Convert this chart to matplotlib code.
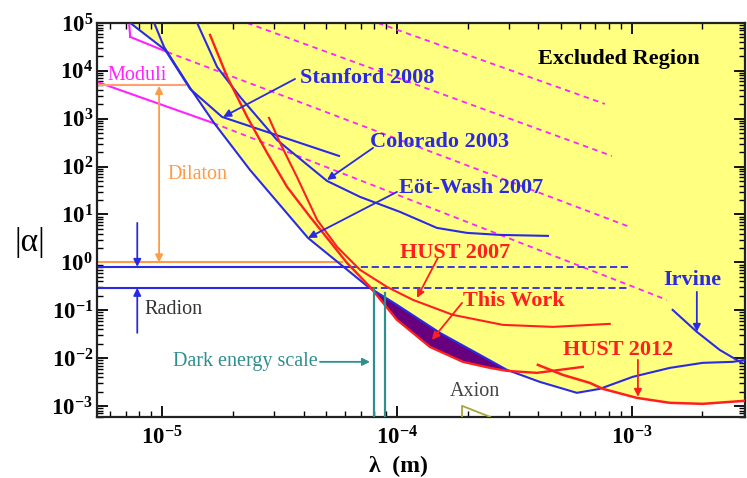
import numpy as np
import matplotlib
matplotlib.use('Agg')
import matplotlib.pyplot as plt
from matplotlib.ticker import LogLocator, FuncFormatter, NullFormatter

plt.rcParams['font.family'] = ['Liberation Serif', 'DejaVu Serif']
plt.rcParams['mathtext.fontset'] = 'custom'
plt.rcParams['mathtext.rm'] = 'Liberation Serif:bold'
plt.rcParams['mathtext.bf'] = 'Liberation Serif:bold'
plt.rcParams['mathtext.it'] = 'Liberation Serif:bold:italic'

# curves, as log10(lambda/m) and log10(|alpha|)
stanford_x = [-5.136, -4.987, -4.881, -4.745, -4.247]
stanford_y = [5.0, 4.436, 3.622, 3.038, 2.223]

eotwash_x = [-5.034, -4.992, -4.881, -4.779, -4.626, -4.379, -4.243, -4.123, -4.000, -3.817,
             -3.647, -3.532, -3.392, -3.234, -3.136, -2.996, -2.838, -2.698, -2.570, -2.511]
eotwash_y = [5.0, 4.499, 3.643, 2.912, 1.931, 0.511, -0.031, -0.511, -0.887, -1.472,
             -1.931, -2.244, -2.495, -2.724, -2.641, -2.390, -2.203, -2.098, -2.077, -2.035]

colorado_x = [-4.851, -4.766, -4.668, -4.511, -4.298, -4.157, -3.987, -3.830, -3.702, -3.562, -3.357]
colorado_y = [5.0, 4.081, 3.455, 2.557, 1.701, 1.367, 1.054, 0.720, 0.616, 0.574, 0.553]

irvine_x = [-2.826, -2.723, -2.626, -2.532]
irvine_y = [-0.992, -1.451, -1.827, -2.098]

hust07_x = [-4.545, -4.498, -4.426, -4.340, -4.255, -4.157, -4.043, -3.932, -3.762, -3.549, -3.336, -3.094]
hust07_y = [3.017, 2.495, 1.785, 0.887, 0.324, -0.157, -0.511, -0.783, -1.096, -1.305, -1.347, -1.284]

thiswork_x = [-4.796, -4.723, -4.638, -4.553, -4.468, -4.370, -4.315, -4.213, -4.115, -4.000,
              -3.860, -3.719, -3.604, -3.532, -3.404, -3.209]
thiswork_y = [4.749, 3.873, 3.038, 2.286, 1.576, 0.950, 0.616, -0.010, -0.511, -1.200,
              -1.764, -2.077, -2.203, -2.265, -2.307, -2.182]

hust12_x = [-3.400, -3.294, -3.179, -3.123, -2.979, -2.838, -2.698, -2.519]
hust12_y = [-2.140, -2.349, -2.516, -2.641, -2.829, -2.933, -2.954, -2.891]

# theory lines (magenta): solid part then dashed part
moduli_solid_x = [-5.277, -4.783]
moduli_solid_y = [3.768, 2.912]
moduli_dash_x = [-4.783, -2.851]
moduli_dash_y = [2.912, -0.783]
mod2_solid_x = [-5.136, -4.979]
mod2_solid_y = [4.708, 4.395]
mod2_dash_x = [-4.979, -3.009]
mod2_dash_y = [4.395, 0.741]
mod1_dash_x = [-4.638, -3.085]
mod1_dash_y = [5.0, 2.223]
mod0_dash_x = [-4.081, -3.115]
mod0_dash_y = [5.0, 3.309]

moduli_level = 5.0e3
dilaton_level = 1.0
radion_hi = 0.80
radion_lo = 0.294
dark_energy_x = [8.0e-5, 8.9e-5]


def P(lx, ly):
    return 10 ** np.asarray(lx, dtype=float), 10 ** np.asarray(ly, dtype=float)


blue = '#2a2ae6'
red = '#ff1f1f'
mag = '#ff22ff'
orange = '#ff9a45'
teal = '#2e8f8f'

fig = plt.figure(figsize=(7.47, 4.78), dpi=100)
ax = fig.add_axes([0.130, 0.128, 0.867, 0.824])
ax.set_xscale('log')
ax.set_yscale('log')
xmin, xmax = 10 ** -5.277, 10 ** -2.519
ymin, ymax = 10 ** -3.225, 1e5
ax.set_xlim(xmin, xmax)
ax.set_ylim(ymin, ymax)

# excluded (yellow) region
yx = stanford_x[:3] + eotwash_x[3:15] + hust12_x[4:] + [-2.3, -2.3, stanford_x[0]]
yy = stanford_y[:3] + eotwash_y[3:15] + hust12_y[4:] + [hust12_y[-1], 5.3, 5.3]
ax.fill(*P(yx, yy), color='#ffff80', lw=0, zorder=0)

# this work band
px_ = eotwash_x[7:12] + thiswork_x[8:14][::-1]
py_ = eotwash_y[7:12] + thiswork_y[8:14][::-1]
ax.fill(*P(px_, py_), color='#66007f', lw=0, zorder=1)

# magenta theory lines
ax.plot(*P(moduli_solid_x, moduli_solid_y), color=mag, lw=1.5, zorder=2)
ax.plot(*P(mod2_solid_x, mod2_solid_y), color=mag, lw=1.5, zorder=2)
ax.plot(*P([-5.14, -5.136], [4.95, 4.708]), color=mag, lw=1.5, zorder=2)
for xs, ys in [(moduli_dash_x, moduli_dash_y), (mod2_dash_x, mod2_dash_y),
               (mod1_dash_x, mod1_dash_y), (mod0_dash_x, mod0_dash_y)]:
    ax.plot(*P(xs, ys), color=mag, lw=1.3, ls=(0, (3, 2.5)), zorder=2)

# experiments
ax.plot(*P(stanford_x, stanford_y), color=blue, lw=1.5, zorder=3)
ax.plot(*P(eotwash_x, eotwash_y), color=blue, lw=1.5, zorder=3)
ax.plot(*P(colorado_x, colorado_y), color=blue, lw=1.5, zorder=3)
ax.plot(*P(irvine_x, irvine_y), color=blue, lw=1.5, zorder=3)
ax.plot(*P(hust07_x, hust07_y), color=red, lw=1.5, zorder=3)
ax.plot(*P(thiswork_x, thiswork_y), color=red, lw=1.7, zorder=3)
ax.plot(*P(hust12_x, hust12_y), color=red, lw=1.8, zorder=3)

# horizontal theory levels
ax.plot([xmin, 10 ** -4.902], [moduli_level] * 2, color='#ffa070', lw=1.5, zorder=2)
ax.plot([xmin, 10 ** -4.234], [dilaton_level] * 2, color=orange, lw=1.5, zorder=2)
ax.plot([xmin, 10 ** -4.200], [radion_hi] * 2, color=blue, lw=1.5, zorder=2)
ax.plot([10 ** -4.200, 10 ** -3.009], [radion_hi] * 2, color=blue, lw=1.3, ls=(0, (4, 2)), zorder=2)
ax.plot([xmin, 10 ** -4.115], [radion_lo] * 2, color=blue, lw=1.5, zorder=2)
ax.plot([10 ** -4.115, 10 ** -3.009], [radion_lo] * 2, color=blue, lw=1.3, ls=(0, (4, 2)), zorder=2)

# dark energy scale
ax.plot([dark_energy_x[0]] * 2, [ymin * 0.5, 10 ** -0.532], color=teal, lw=1.6, zorder=3)
ax.plot([dark_energy_x[1]] * 2, [ymin * 0.5, 10 ** -0.637], color=teal, lw=1.6, zorder=3)

# axion
ax.plot(*P([-3.723, -3.723, -3.604], [-3.4, -2.996, -3.225]), color='#a6a63c', lw=1.3, zorder=3)


def arrow(tail, head, color, lw=1.3, style='-|>'):
    ax.annotate('', xy=P(*head), xytext=P(*tail),
                arrowprops=dict(arrowstyle=style, color=color, lw=lw,
                                shrinkA=0, shrinkB=0, mutation_scale=11), zorder=4)


arrow((-4.434, 3.831), (-4.740, 3.038), blue)
arrow((-4.102, 2.390), (-4.298, 1.722), blue)
arrow((-4.000, 1.472), (-4.379, 0.511), blue)
arrow((-3.826, 0.094), (-3.915, -0.741), red)
arrow((-3.723, -0.846), (-3.851, -1.618), red)
arrow((-2.974, -2.035), (-2.974, -2.808), red)
arrow((-2.723, -0.616), (-2.723, -1.451), blue)
arrow((-4.328, -2.077), (-4.115, -2.077), teal)
arrow((-5.013, 3.685), (-5.013, 0.0), orange, style='<|-|>')
arrow((-5.106, 0.825), (-5.106, -0.094), blue)
arrow((-5.106, -1.472), (-5.106, -0.532), blue)

bold = dict(fontsize=16, fontweight='bold', va='center', ha='left', zorder=5)
ax.text(*P(-4.413, 3.852), 'Stanford 2008', color=blue, **bold)
ax.text(*P(-4.115, 2.516), 'Colorado 2003', color=blue, **bold)
ax.text(*P(-3.991, 1.555), 'Eöt-Wash 2007', color=blue, **bold)
ax.text(*P(-3.987, 0.198), 'HUST 2007', color=red, **bold)
ax.text(*P(-3.719, -0.804), 'This Work', color=red, **bold)
ax.text(*P(-3.294, -1.827), 'HUST 2012', color=red, **bold)
ax.text(*P(-2.868, -0.365), 'Irvine', color=blue, **bold)
ax.text(*P(-3.400, 4.248), 'Excluded Region', color='black', **bold)

reg = dict(fontsize=14.5, va='center', ha='left', zorder=5)
ax.text(*P(-5.234, 3.894), 'Moduli', color=mag, **reg)
ax.text(*P(-4.979, 1.827), 'Dilaton', color=orange, **reg)
ax.text(*P(-5.077, -0.992), 'Radion', color='#333333', **reg)
ax.text(*P(-4.953, -2.077), 'Dark energy scale', color=teal, **reg)
ax.text(*P(-3.774, -2.70), 'Axion', color='#444444', **reg)


def dec_label(v, pos, lo, hi):
    if v < lo * 0.999 or v > hi * 1.001:
        return ''
    return r'$\mathbf{10^{%d}}$' % round(np.log10(v))


# axes styling
ax.xaxis.set_major_locator(LogLocator(base=10, numticks=20))
ax.xaxis.set_minor_locator(LogLocator(base=10, subs=np.arange(2, 10), numticks=20))
ax.yaxis.set_major_locator(LogLocator(base=10, numticks=20))
ax.yaxis.set_minor_locator(LogLocator(base=10, subs=np.arange(2, 10), numticks=20))
ax.xaxis.set_major_formatter(FuncFormatter(lambda v, p: dec_label(v, p, xmin, xmax)))
ax.yaxis.set_major_formatter(FuncFormatter(lambda v, p: dec_label(v, p, ymin, ymax)))
ax.xaxis.set_minor_formatter(NullFormatter())
ax.yaxis.set_minor_formatter(NullFormatter())
ax.tick_params(which='both', direction='in', top=True, right=True, labelsize=16.5)
ax.tick_params(which='major', length=8, width=1.3)
ax.tick_params(which='minor', length=4, width=1.0)
ax.tick_params(axis='x', pad=7)
ax.tick_params(axis='y', pad=3)
for s in ax.spines.values():
    s.set_linewidth(1.6)
    s.set_color('#222222')

fig.text(30 / 747, 1 - 243 / 478, '|α|', fontsize=24, ha='center', va='center')
fig.text(398 / 747, 1 - 466 / 478, 'λ  (m)', fontsize=17, fontweight='bold', ha='center', va='center')

fig.savefig('out.png', dpi=100)
